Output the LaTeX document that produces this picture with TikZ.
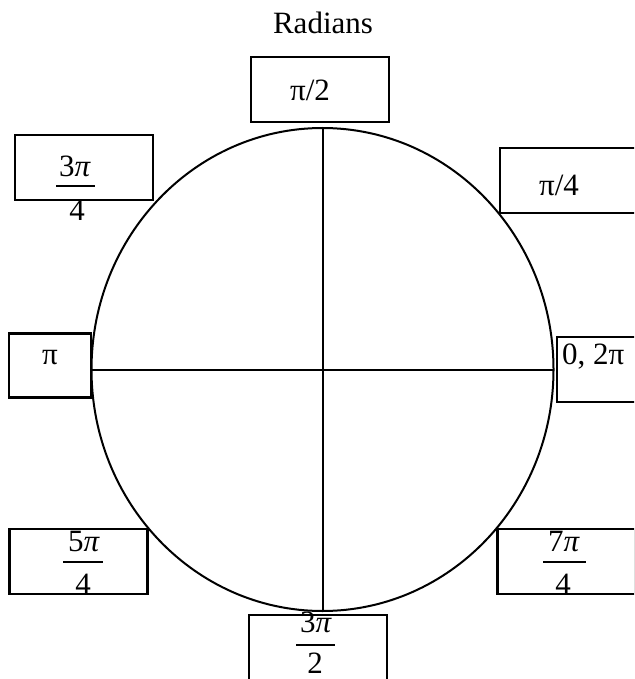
\documentclass[tikz,border=0pt]{standalone}
\usepackage{fontspec}
\setmainfont{Liberation Serif}
\usetikzlibrary{positioning}

\tikzset{
	anglebox/.style={draw, line width=2.2pt, inner sep=0pt, minimum width=138pt, minimum height=65pt},
	anglelabel/.style={inner sep=0pt, font=\fontsize{31}{36}\selectfont},
	fracbar/.style={line width=1.6pt}
}

\begin{document}
\begin{tikzpicture}[x=1pt, y=-1pt]
		\clip (0, 0) rectangle (634, 679);
		\fill [white] (0, 0) rectangle (634, 679);
		\node [anglelabel] (title) at (323, 23) {Radians};
		\draw [line width=2pt] (322.5, 369.5) ellipse (231 and 241.5);
		\coordinate (top) at (322.5, 128);
		\coordinate (bottom) at (322.5, 611);
		\coordinate (left) at (91.5, 369.5);
		\coordinate (right) at (553.5, 369.5);
		\draw [line width=2pt] (top) -- (bottom);
		\draw [line width=2pt] (left) -- (right);
		\node [anglebox] (halfpi) at (320, 89.5) {};
		\node [anglelabel] (halfpitext) at (310, 90) {π/2};
		\node [anglebox] (quarterpi) at (569, 180.5) {};
		\node [anglelabel] (quarterpitext) at (559, 185) {π/4};
		\node [anglebox, minimum width=82pt, minimum height=64pt] (pi) at (50, 365.5) {};
		\node [anglelabel] (pitext) at (50, 358) {π};
		\node [anglebox, minimum width=82pt] (zero) at (598, 369.5) {};
		\node [anglelabel, anchor=west] (zerotext) at (562, 357) {0, 2π};
		\begin{scope}
			\node [anglebox] (threequarter) at (84, 167.5) {};
			\node [anglelabel] (threequarternum) at (75, 166) {3\textit{π}};
			\node [anglelabel] (threequarterden) at (77, 210) {4};
			\draw [fracbar] (56, 186) -- (95, 186);
		\end{scope}
		\begin{scope}
			\node [anglebox] (fivequarter) at (78.5, 561.5) {};
			\node [anglelabel] (fivequarternum) at (84, 541) {5\textit{π}};
			\node [anglelabel] (fivequarterden) at (83, 584) {4};
			\draw [fracbar] (63, 562) -- (103, 562);
		\end{scope}
		\begin{scope}
			\node [anglebox] (sevenquarter) at (566.5, 561.5) {};
			\node [anglelabel] (sevenquarternum) at (564, 541) {7\textit{π}};
			\node [anglelabel] (sevenquarterden) at (563, 584) {4};
			\draw [fracbar] (543, 562) -- (586, 562);
		\end{scope}
		\begin{scope}
			\node [anglebox] (threehalf) at (318, 647.5) {};
			\node [anglelabel] (threehalfnum) at (316, 622) {3\textit{π}};
			\node [anglelabel] (threehalfden) at (315, 663) {2};
			\draw [fracbar] (296, 645) -- (335, 645);
		\end{scope}
	\end{tikzpicture}
\end{document}
